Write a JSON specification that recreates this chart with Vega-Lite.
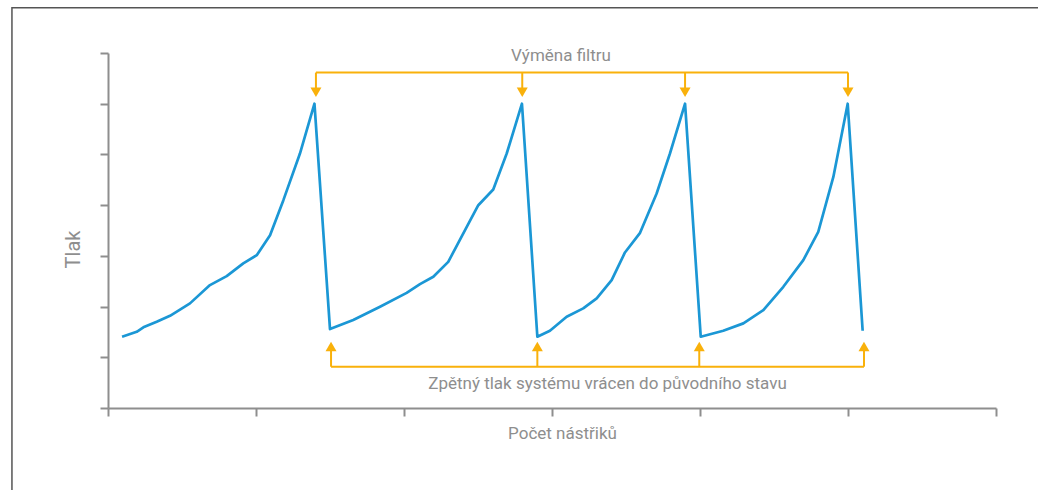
{
  "$schema": "https://vega.github.io/schema/vega-lite/v6.json",
  "width": 888,
  "height": 355,
  "autosize": {"type": "none"},
  "padding": {"left": 108, "top": 53, "right": 42, "bottom": 82},
  "background": "white",
  "config": {
    "view": {"stroke": null},
    "font": "Roboto",
    "axis": {
      "domainColor": "#8e8e8e",
      "domainWidth": 2,
      "tickColor": "#8e8e8e",
      "tickWidth": 2,
      "tickSize": 8,
      "labels": false,
      "grid": false,
      "titleFont": "Roboto",
      "titleFontSize": 17,
      "titleFontWeight": "normal",
      "titleColor": "#8e8e8e"
    }
  },
  "datasets": {
    "pressure": [
      {"n": 1, "x": 0.095, "y": 1.405},
      {"n": 2, "x": 0.194, "y": 1.503},
      {"n": 3, "x": 0.239, "y": 1.59},
      {"n": 4, "x": 0.329, "y": 1.7},
      {"n": 5, "x": 0.419, "y": 1.818},
      {"n": 6, "x": 0.554, "y": 2.063},
      {"n": 7, "x": 0.689, "y": 2.423},
      {"n": 8, "x": 0.802, "y": 2.6},
      {"n": 9, "x": 0.914, "y": 2.851},
      {"n": 10, "x": 1.005, "y": 3.014},
      {"n": 11, "x": 1.095, "y": 3.408},
      {"n": 12, "x": 1.185, "y": 4.098},
      {"n": 13, "x": 1.297, "y": 5.018},
      {"n": 14, "x": 1.395, "y": 6.0},
      {"n": 15, "x": 1.5, "y": 1.556},
      {"n": 16, "x": 1.657, "y": 1.734},
      {"n": 17, "x": 1.838, "y": 1.996},
      {"n": 18, "x": 2.018, "y": 2.271},
      {"n": 19, "x": 2.108, "y": 2.443},
      {"n": 20, "x": 2.198, "y": 2.587},
      {"n": 21, "x": 2.299, "y": 2.882},
      {"n": 22, "x": 2.424, "y": 3.572},
      {"n": 23, "x": 2.502, "y": 3.999},
      {"n": 24, "x": 2.603, "y": 4.308},
      {"n": 25, "x": 2.694, "y": 5.018},
      {"n": 26, "x": 2.797, "y": 6.0},
      {"n": 27, "x": 2.901, "y": 1.405},
      {"n": 28, "x": 2.986, "y": 1.523},
      {"n": 29, "x": 3.099, "y": 1.799},
      {"n": 30, "x": 3.211, "y": 1.964},
      {"n": 31, "x": 3.302, "y": 2.161},
      {"n": 32, "x": 3.403, "y": 2.522},
      {"n": 33, "x": 3.493, "y": 3.067},
      {"n": 34, "x": 3.595, "y": 3.454},
      {"n": 35, "x": 3.707, "y": 4.23},
      {"n": 36, "x": 3.797, "y": 5.018},
      {"n": 37, "x": 3.899, "y": 6.0},
      {"n": 38, "x": 4.005, "y": 1.405},
      {"n": 39, "x": 4.157, "y": 1.523},
      {"n": 40, "x": 4.293, "y": 1.669},
      {"n": 41, "x": 4.428, "y": 1.931},
      {"n": 42, "x": 4.563, "y": 2.39},
      {"n": 43, "x": 4.698, "y": 2.916},
      {"n": 44, "x": 4.799, "y": 3.473},
      {"n": 45, "x": 4.901, "y": 4.557},
      {"n": 46, "x": 4.998, "y": 6.0},
      {"n": 47, "x": 5.099, "y": 1.523}
    ],
    "brackets": [
      {"x": 1.405, "x2": 5.0, "y": 6.614, "y2": 6.614},
      {"x": 1.405, "x2": 1.405, "y": 6.614, "y2": 6.25},
      {"x": 2.799, "x2": 2.799, "y": 6.614, "y2": 6.25},
      {"x": 3.899, "x2": 3.899, "y": 6.614, "y2": 6.25},
      {"x": 5.0, "x2": 5.0, "y": 6.614, "y2": 6.25},
      {"x": 1.507, "x2": 5.108, "y": 0.814, "y2": 0.814},
      {"x": 1.507, "x2": 1.507, "y": 0.814, "y2": 1.19},
      {"x": 2.901, "x2": 2.901, "y": 0.814, "y2": 1.19},
      {"x": 3.995, "x2": 3.995, "y": 0.814, "y2": 1.19},
      {"x": 5.108, "x2": 5.108, "y": 0.814, "y2": 1.19}
    ],
    "arrows": [
      {"x": 1.405, "y": 6.227, "dir": "down"},
      {"x": 2.799, "y": 6.227, "dir": "down"},
      {"x": 3.899, "y": 6.227, "dir": "down"},
      {"x": 5.0, "y": 6.227, "dir": "down"},
      {"x": 1.507, "y": 1.212, "dir": "up"},
      {"x": 2.901, "y": 1.212, "dir": "up"},
      {"x": 3.995, "y": 1.212, "dir": "up"},
      {"x": 5.108, "y": 1.212, "dir": "up"}
    ],
    "notes": [
      {"x": 3.061, "y": 6.836, "label": "Výměna filtru"},
      {"x": 3.375, "y": 0.368, "label": "Zpětný tlak systému vrácen do původního stavu"}
    ],
    "frame": [
      {"x": -0.649, "x2": 9, "y": 7.894, "y2": -3}
    ]
  },
  "encoding": {
    "x": {
      "field": "x",
      "type": "quantitative",
      "scale": {"domain": [0, 6], "nice": false, "zero": false},
      "axis": {"values": [0, 1, 2, 3, 4, 5, 6], "title": "Počet nástřiků", "titlePadding": 8, "titleX": 454}
    },
    "y": {
      "field": "y",
      "type": "quantitative",
      "scale": {"domain": [0, 7], "nice": false, "zero": false},
      "axis": {"values": [0, 1, 2, 3, 4, 5, 6, 7], "title": "Tlak", "titleFontSize": 20, "titlePadding": 16, "titleY": 196}
    }
  },
  "layer": [
    {
      "data": {"name": "frame"},
      "mark": {"type": "rect", "fill": null, "stroke": "#555555", "strokeWidth": 1.5, "clip": false},
      "encoding": {"x2": {"field": "x2"}, "y2": {"field": "y2"}}
    },
    {
      "data": {"name": "pressure"},
      "mark": {"type": "line", "color": "#1b97d5", "strokeWidth": 2.7, "strokeJoin": "round"},
      "encoding": {"order": {"field": "n", "type": "quantitative"}}
    },
    {
      "data": {"name": "brackets"},
      "mark": {"type": "rule", "color": "#f9b10b", "strokeWidth": 2},
      "encoding": {"x2": {"field": "x2"}, "y2": {"field": "y2"}}
    },
    {
      "data": {"name": "arrows"},
      "mark": {"type": "point", "filled": true, "opacity": 1, "size": 121, "color": "#f9b10b"},
      "encoding": {
        "shape": {
          "field": "dir",
          "type": "nominal",
          "scale": {"domain": ["down", "up"], "range": ["triangle-down", "triangle-up"]},
          "legend": null
        }
      }
    },
    {
      "data": {"name": "notes"},
      "mark": {"type": "text", "font": "Roboto", "fontSize": 17, "color": "#8e8e8e", "align": "center", "baseline": "alphabetic"},
      "encoding": {"text": {"field": "label", "type": "nominal"}}
    }
  ]
}
